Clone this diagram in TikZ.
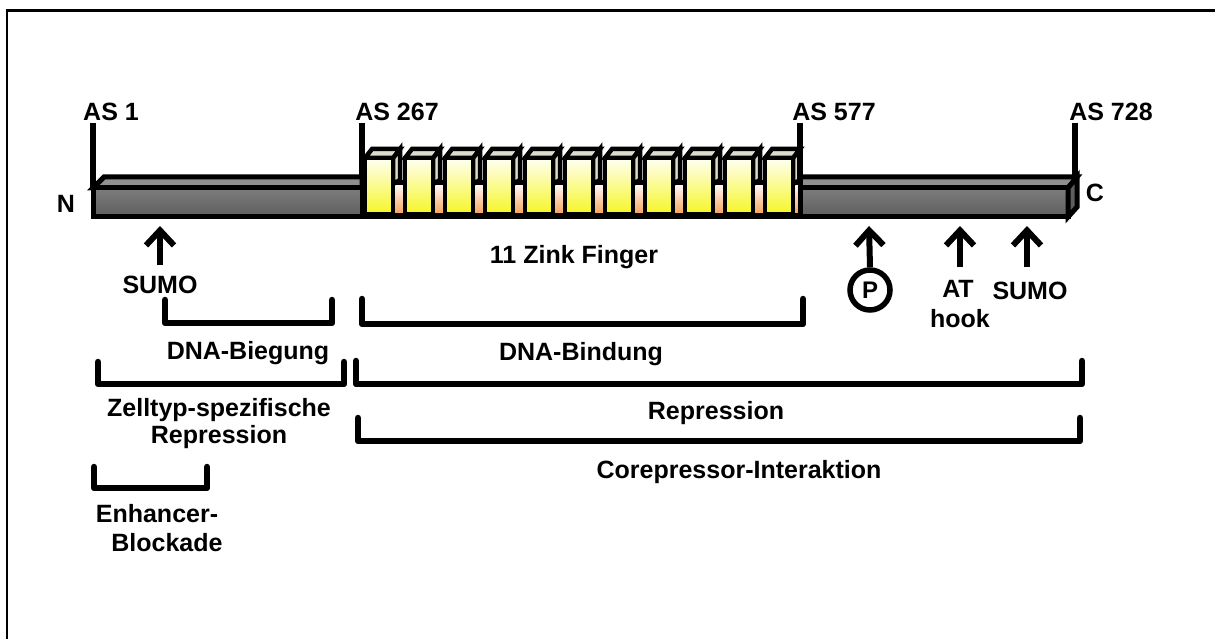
\documentclass[tikz,border=0pt]{standalone}
\usepackage{fontspec}
\setmainfont{Liberation Sans}
\usetikzlibrary{arrows.meta}
\definecolor{bartop}{HTML}{909090}
\definecolor{bardark}{HTML}{5E5E5E}
\definecolor{barlight}{HTML}{7C7C7C}
\definecolor{barmid}{HTML}{878787}
\definecolor{zfyellow}{HTML}{F6F626}
\definecolor{zfwhite}{HTML}{FFFFF4}
\definecolor{zforange}{HTML}{F49A4C}
\definecolor{zfside}{HTML}{DCDCCC}
\begin{document}
\begin{tikzpicture}[x=1pt,y=-1pt,
  lbl/.style={font=\fontsize{25}{28}\selectfont\bfseries, inner sep=0pt, anchor=base},
  bracketline/.style={line width=6.5pt, line cap=round, line join=round},
  asline/.style={line width=6pt},
  outline/.style={line width=5pt, line join=miter},
  zfline/.style={line width=4.5pt, line join=miter},
  uparrow/.style={line width=6pt, -{Straight Barb[length=15pt,width=28pt,line width=6pt]}},
  frameline/.style={line width=2.3pt}]
\useasboundingbox (0,0) rectangle (1215,639);
\fill[white] (0,0) rectangle (1215,639);
% frame
\draw[frameline] (7,660) -- (7,10.5) -- (1240,10.5);

% left gray bar
\draw[outline, fill=bartop] (93,188) -- (104,177) -- (362,177) -- (362,188) -- cycle;
\draw[outline, top color=barlight, middle color=barmid, bottom color=bardark] (93,188) rectangle (362,217);
% right gray bar
\draw[outline, fill=bartop] (800,188) -- (800,177) -- (1077,177) -- (1068,188) -- cycle;
\draw[outline, top color=barlight, middle color=barmid, bottom color=bardark] (800,188) rectangle (1068,217);
\draw[outline, fill=bardark] (1068,188) -- (1077,177) -- (1077,207) -- (1068,217) -- cycle;
% zinc finger region bar
\draw[outline, top color=white, bottom color=zforange] (362,183) rectangle (800,217);
% zinc fingers
\foreach \i in {0,...,10}{
  \pgfmathsetmacro{\xa}{365+40*\i}
  \pgfmathsetmacro{\xb}{\xa+28}
  \draw[zfline, fill=zfside] (\xb,158) -- (\xb+7,149) -- (\xb+7,180) -- (\xb,184) -- cycle;
  \draw[zfline, fill=zfside] (\xa,158) -- (\xa+7,149) -- (\xb+7,149) -- (\xb,158) -- cycle;
  \draw[zfline, top color=zfwhite, bottom color=zfyellow] (\xa,158) rectangle (\xb,214);
}
\draw[line width=5pt] (362,216) -- (800,216);

% AS position lines
\coordinate (as1b) at (93,188);
\coordinate (as267b) at (362,178);
\coordinate (as577b) at (800,180);
\coordinate (as728b) at (1075,178);
\node[lbl] (as1) at (111,121) {AS 1};
\node[lbl] (as267) at (397,121) {AS 267};
\node[lbl] (as577) at (834,121) {AS 577};
\node[lbl] (as728) at (1111,121) {AS 728};
\draw[asline] (93,123) -- (as1b);
\draw[asline] (362,123) -- (as267b);
\draw[asline] (800,123) -- (as577b);
\draw[asline] (1075,123) -- (as728b);

\node[lbl] (nterm) at (66,212) {N};
\node[lbl] (cterm) at (1095,202) {C};

% modification arrows
\node[lbl] (sumo1) at (160,293) {SUMO};
\coordinate (s1t) at (160,265);
\coordinate (s1h) at (160,226);
\draw[uparrow] (s1t) -- (s1h);

\node[lbl] (zf) at (574,263) {11 Zink Finger};

\node[circle, draw, line width=5.5pt, minimum size=40pt, inner sep=0pt,
      font=\fontsize{24}{28}\selectfont\bfseries] (phos) at (870,290) {P};
\coordinate (ph) at (869,226);
\draw[uparrow] (phos.north) -- (ph);

\node[lbl] (at) at (958,297) {AT};
\node[lbl] (hook) at (960,327) {hook};
\coordinate (att) at (960,267);
\coordinate (ath) at (960,226);
\draw[uparrow] (att) -- (ath);

\node[lbl] (sumo2) at (1030,299) {SUMO};
\coordinate (s2t) at (1027,267);
\coordinate (s2h) at (1027,226);
\draw[uparrow] (s2t) -- (s2h);

% brackets
\draw[bracketline] (165,300) -- (165,323) -- (332,323) -- (332,300);
\node[lbl] (biegung) at (248,359) {DNA-Biegung};

\draw[bracketline] (362,299) -- (362,324) -- (803,324) -- (803,299);
\node[lbl] (bindung) at (581,360) {DNA-Bindung};

\draw[bracketline] (98,362) -- (98,384) -- (344,384) -- (344,362);
\node[lbl] (zell1) at (219,416) {Zelltyp-spezifische};
\node[lbl] (zell2) at (219,443) {Repression};

\draw[bracketline] (356,361) -- (356,384) -- (1082,384) -- (1082,361);
\node[lbl] (repr) at (716,419) {Repression};

\draw[bracketline] (358,418) -- (358,441) -- (1080,441) -- (1080,418);
\node[lbl] (corep) at (739,478) {Corepressor-Interaktion};

\draw[bracketline] (94,467) -- (94,488) -- (207,488) -- (207,467);
\node[lbl] (enh1) at (157,522) {Enhancer-};
\node[lbl] (enh2) at (167,551) {Blockade};
\end{tikzpicture}
\end{document}
